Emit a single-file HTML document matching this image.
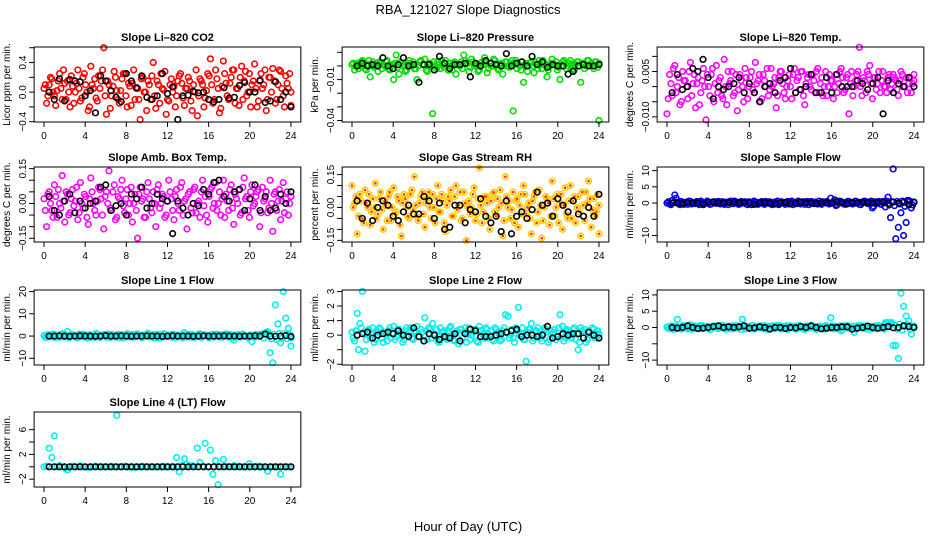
<!DOCTYPE html>
<html><head><meta charset="utf-8">
<style>
html,body{margin:0;padding:0;background:#fff;}
svg{display:block;font-family:"Liberation Sans",Arial,sans-serif;}
</style></head>
<body>
<svg id="chart" width="936" height="540" viewBox="0 0 936 540" xmlns="http://www.w3.org/2000/svg">
<rect x="0" y="0" width="936" height="540" fill="#fff"/>
<text x="468" y="14" text-anchor="middle" font-size="13">RBA_121027  Slope Diagnostics</text>
<text x="468" y="531" text-anchor="middle" font-size="13">Hour of Day (UTC)</text>
</svg>
<script>
const xTicks = [0,4,8,12,16,20,24];

const co2Color = [0.05,-0.15,0.1,0.18,-0.05,0.02,0.25,-0.1,0.12,0.15,-0.2,0.08,0.0,0.3,-0.12,0.2,0.1,-0.25,0.35,0.05,-0.08,0.22,0.15,0.6,-0.3,0.1,-0.05,0.28,0.02,-0.15,0.18,0.25,-0.2,0.08,0.12,-0.1,0.05,-0.37,0.2,0.0,0.15,-0.1,0.4,-0.22,0.1,0.25,0.03,-0.3,-0.12,0.18,0.08,-0.05,0.22,0.12,-0.18,0.05,0.15,-0.25,0.0,-0.32,0.18,0.1,-0.08,0.25,0.45,-0.15,0.3,0.05,-0.22,0.42,0.12,-0.1,0.2,0.3,0.05,-0.18,0.35,0.15,-0.05,0.25,0.1,0.38,-0.2,0.15,0.05,0.3,-0.1,0.2,0.32,-0.15,0.1,0.28,-0.05,0.22,0.05,-0.18];
const co2Color2 = [0.1,-0.05,0.2,0.0,-0.18,0.15,0.05,0.3,-0.1,0.0,0.22,-0.15,0.12,0.05,-0.08,0.25,0.0,-0.2,0.1,0.18,-0.12,0.05,0.3,-0.05,0.15,-0.22,0.08,0.2,-0.1,0.02,0.25,-0.05,0.12,-0.18,0.3,0.05,-0.1,0.18,0.0,-0.25,0.1,0.22,-0.05,0.15,-0.15,0.05,0.28,-0.1,0.1,0.0,-0.2,0.15,0.25,-0.08,0.05,0.2,-0.12,0.1,0.3,-0.05,0.15,-0.2,0.02,0.22,0.1,-0.1,0.18,-0.28,0.08,0.25,-0.05,0.12,0.3,-0.15,0.05,0.2,-0.1,0.28,0.0,-0.2,0.15,0.05,-0.12,0.25,0.1,-0.25,0.2,0.0,0.15,-0.1,0.3,0.05,-0.2,0.12,0.25,0.0];
const co2Black = [0.0,-0.1,0.18,-0.12,0.17,0.15,0.14,-0.05,0.02,-0.28,0.22,0.15,0.02,-0.07,-0.13,0.25,0.15,0.06,0.22,-0.07,-0.1,-0.05,0.25,-0.02,0.07,-0.37,-0.05,-0.04,0.01,-0.01,0.0,-0.1,-0.13,-0.1,0.06,-0.08,-0.07,0.09,0.13,0.0,0.0,0.16,-0.14,-0.12,0.14,-0.1,0.0,-0.2];

const presColor = [.001,-.003,.002,.0,.004,-.002,.001,-.008,.003,.0,-.004,.002,.001,.003,-.002,.0,-.01,.008,-.006,.002,.001,-.003,.004,.0,-.002,-.01,.003,.001,.005,-.004,.002,-.035,.0,.003,-.002,.001,.004,-.003,.0,.002,-.006,.001,.003,.008,.002,-.004,.005,.0,.001,-.003,.003,.006,-.005,.002,.0,.004,-.002,.001,-.006,.003,.0,.002,-.033,.004,.001,-.003,-.012,.002,.0,.003,-.005,.001,.004,-.002,.002,-.008,.0,.005,.001,-.003,-.01,.003,.002,.0,.004,-.002,.001,.003,-.012,.002,.0,.004,.001,-.002,.003,-.04];
const presColor2 = [.002,.0,-.002,.003,.001,-.003,.004,.0,-.001,.002,.003,-.002,.0,.004,-.003,.001,.002,-.001,.003,.0,-.004,.002,.001,.003,-.002,.0,.004,.001,-.003,.002,.0,.003,-.002,.001,.004,-.001,.0,.002,-.003,.003,.001,.0,-.002,.004,.002,-.001,.003,.0,-.004,.002,.001,.003,-.002,.0,.005,.001,-.003,.002,.0,.003,-.001,.004,.002,-.002,.0,.003,.001,-.004,.002,.0,.003,-.002,.001,.004,.0,-.003,.002,.001,.003,-.001,.0,.004,-.002,.002,.001,-.003,.003,.0,.002,-.002,.004,.001,.0,.003,-.001,.002];
const presBlack = [.0,.002,.0,.001,.0,.006,.0,-.002,.001,.006,.0,.001,-.012,.001,.001,-.003,.007,.002,-.002,.001,.001,.002,-.008,.002,.0,.004,.002,.001,.0,.009,.0,.002,.003,.0,.007,.001,.003,-.001,.001,.0,.0,-.006,-.004,.0,.001,.0,.0,.001];

const tempColor = [-.009,.004,-.003,.007,.0,-.006,.005,.002,-.004,.008,.001,-.007,.003,-.002,.006,-.011,.0,.004,-.005,.007,.002,-.003,.009,-.006,.001,.005,-.002,-.008,.004,.0,.006,-.004,.003,-.001,.008,.002,-.005,.004,.0,-.003,.006,.001,-.007,.003,.005,-.002,.0,.004,-.004,.006,.002,-.001,.005,-.006,.003,.0,.004,-.002,.006,.001,-.003,.005,.0,.002,-.004,.004,.001,.006,-.002,.003,-.009,.005,.0,.004,.013,-.003,.002,.005,.007,-.004,.003,.001,-.002,.005,.0,.003,-.001,.004,.002,-.003,.005,.0,.003,.001,-.002,.004];
const tempColor2 = [-.004,.001,.006,-.002,.003,-.005,.002,.0,.005,-.003,.004,.001,-.006,.002,.0,.004,-.003,.006,.001,-.002,.003,-.004,.0,.005,.002,-.003,.004,-.001,.002,-.005,.003,.0,.005,-.002,.001,.004,-.004,.002,.006,-.001,.0,.003,-.003,.005,.001,-.004,.002,.0,.004,-.002,.003,.005,-.003,.001,.004,-.001,.002,.005,-.002,.003,.0,-.003,.004,.002,.0,-.002,.005,.003,-.001,.004,.001,-.003,.002,.005,.0,.003,-.002,.004,.001,.003,-.001,.005,.002,.0,-.002,.004,.001,.003,-.001,.002,.004,.0,-.002,.003,.001,.002];
const tempBlack = [-.002,.004,-.001,.0,.006,.005,.009,.003,-.004,.0,-.001,.0,.001,.003,-.002,.001,-.002,-.005,.0,.001,-.002,.002,.003,.006,-.002,-.001,.0,.004,-.002,-.002,.003,-.002,.004,.0,.0,.0,.002,.001,-.001,.001,.003,-.009,.002,-.002,.001,.0,.003,.0];

const ambColor = [.02,-.1,.05,-.03,.08,-.06,.0,.12,-.08,.04,-.04,.06,.01,-.07,.09,-.02,.03,-.09,.11,.0,-.05,.07,.02,-.11,.05,.14,-.03,.08,-.06,.02,.1,-.04,.06,.0,-.08,.04,-.15,.07,.02,-.06,.09,-.02,.05,-.1,.08,.0,.03,-.05,.1,.02,-.07,.06,-.03,.09,.01,-.11,.05,-.04,.07,.0,-.06,.1,.03,-.08,.06,-.02,.09,.0,-.05,.1,.04,-.03,.08,-.09,.02,.06,-.04,.11,.03,-.06,.08,.0,.05,-.1,.07,.02,-.04,.1,-.12,.05,.01,-.07,.09,.02,-.05,.03];
const ambColor2 = [-.03,.04,.0,-.06,.03,.06,-.02,.01,.05,-.05,.02,-.01,.07,-.04,.0,.04,-.06,.02,.05,-.03,.01,.06,-.05,.03,.0,-.02,.05,-.07,.03,.06,-.01,.02,-.05,.07,.0,-.03,.04,.01,-.06,.05,.02,-.04,.0,.06,-.02,.04,-.06,.01,.05,-.03,.03,.0,.07,-.05,.02,.04,-.02,.06,-.04,.01,.05,-.01,-.05,.03,.07,.0,-.03,.05,.02,-.06,.01,.06,-.02,.04,.0,-.05,.07,.02,-.03,.05,-.01,.03,.06,-.04,.01,.05,-.02,.0,.04,-.03,.06,.01,-.04,.05,.0,.03];
const ambBlack = [.03,-.03,-.05,.01,.04,-.04,.01,-.02,.0,.01,.07,.08,-.03,-.01,.0,-.05,.04,.02,.07,-.02,.0,.04,.02,.01,-.13,.01,-.02,-.05,.0,-.01,.06,.04,.09,.1,.03,.01,.05,.06,-.03,.02,.08,-.03,.03,-.03,-.02,.04,.0,.05];

const rhColor = [.1,.02,-.12,.06,-.05,.08,.0,-.08,.04,.11,-.03,.07,-.1,.01,.05,-.06,.09,-.02,.03,-.13,.06,.0,-.05,.08,.14,-.04,.02,.07,-.09,.04,.0,.06,-.07,.1,-.02,.03,-.11,.05,.08,-.04,.1,.01,-.06,.07,-.15,.03,.0,.09,-.03,.18,-.07,.05,.02,-.1,.06,-.02,.04,.08,-.13,.14,.0,-.05,.07,.03,-.09,.06,.1,-.03,.02,-.12,.05,-.07,.08,-.14,.0,.04,-.08,.12,-.04,.06,.02,-.1,.09,-.05,.1,.03,-.07,.05,-.13,.01,.07,.12,-.09,.04,-.02,-.12];
const rhColor2 = [.0,.05,-.04,.03,-.07,.02,.06,-.02,.0,-.05,.04,-.01,.03,-.06,.07,.0,-.03,.05,-.08,.02,.04,-.04,.06,-.01,.01,-.06,.05,-.03,.02,.07,-.05,.0,.04,-.02,.06,-.07,.01,.03,-.04,.05,-.01,.07,-.05,.02,.0,-.03,.06,-.06,.04,.01,-.02,.05,-.05,.03,.07,-.04,.0,.02,-.06,.05,.03,-.01,-.07,.04,.01,-.03,.06,.0,-.05,.03,.07,-.02,.01,-.06,.05,.02,-.04,.04,.0,-.07,.06,.01,-.03,.03,-.05,.05,.0,-.02,.07,-.06,.02,.04,-.01,-.04,.06,.01];
const rhBlack = [.03,-.05,.02,-.06,.0,.03,.01,-.04,-.06,-.02,.01,-.03,-.03,.05,.03,-.05,.02,-.1,-.09,.01,.01,-.07,-.01,-.02,.04,-.04,-.07,-.04,-.11,.03,-.12,-.04,-.02,-.05,-.01,.07,.01,.02,-.04,.04,.01,-.02,.03,-.03,-.04,.0,-.04,.06];

const sampleColor = [0.0,-0.3,0.8,2.5,0.3,-0.5,0.2,0.0,-0.4,0.5,0.1,-0.2,0.3,0.6,-0.5,0.0,0.2,-0.3,0.4,-0.1,0.5,0.0,-0.4,0.3,0.1,-0.2,0.6,0.0,-0.3,0.2,0.4,-0.5,0.1,0.0,0.3,-0.4,0.2,-0.1,0.5,0.0,-0.3,0.2,0.1,-0.5,0.4,0.0,0.2,-0.3,0.6,0.1,-0.2,0.3,0.0,-0.4,0.5,0.1,-0.1,0.3,-0.3,0.0,0.4,0.2,-0.2,1.5,0.3,-0.8,0.0,0.4,-0.3,0.2,0.5,-0.2,0.1,0.0,-0.4,0.3,0.6,-0.1,0.2,-1.5,0.4,0.0,-0.3,0.5,-1.2,1.8,-4.5,10.5,-11,-7.5,-3,-10,-6,0.8,-1.5,0.3];
const sampleColor2 = [0.4,-0.5,0.2,1.5,-0.2,0.5,-0.4,0.3,0.6,-0.3,0.0,0.5,-0.5,0.2,-0.1,0.6,-0.4,0.3,0.0,0.5,-0.3,0.4,0.1,-0.5,0.6,-0.2,0.3,-0.4,0.5,0.0,-0.3,0.4,-0.5,0.6,0.2,-0.1,0.5,-0.4,0.0,0.4,-0.5,0.3,0.6,-0.2,0.1,-0.4,0.5,0.3,-0.5,0.0,0.6,-0.3,0.4,0.2,-0.5,0.5,-0.2,0.0,0.6,-0.4,0.2,0.5,-0.3,0.1,1.0,-0.5,0.6,0.2,-0.4,0.5,0.0,-0.3,0.6,0.3,-0.5,0.1,0.4,-0.2,0.6,-1.0,0.2,0.5,-0.4,0.3,0.6,-0.6,0.4,-0.8,0.5,-0.3,0.6,-1.0,0.8,0.5,-0.6,0.2];
const sampleBlack = [0.0,0.0,-0.2,0.2,0.1,0.0,-0.3,0.2,0.3,0.1,0.0,0.2,0.3,0.1,0.2,0.0,-0.4,0.1,0.2,0.0,-0.3,0.1,0.2,-0.2,0.0,0.3,0.1,0.0,-0.2,0.2,0.1,0.0,0.5,0.2,-0.3,0.1,0.0,0.2,0.3,0.0,0.1,0.2,-0.2,0.3,0.0,0.2,-0.5,0.3];

const line1Color = [0.2,-0.6,0.5,-0.3,0.8,0.0,-0.5,1.0,0.3,2.0,-0.4,0.6,0.0,-0.8,0.4,0.9,-0.2,0.5,-0.6,0.3,1.2,-0.3,0.0,0.7,-0.5,0.4,0.8,-0.2,0.3,-0.7,0.6,0.0,1.0,-0.4,0.5,-0.1,0.9,0.2,-0.6,0.4,1.3,-0.3,0.6,0.0,-0.8,0.5,1.1,-0.2,0.3,-0.5,0.8,0.0,-0.4,0.6,1.5,-0.3,0.2,0.7,-0.6,0.4,1.0,-0.2,0.5,0.0,-0.5,0.8,0.3,-0.3,0.6,0.0,1.0,-0.4,0.5,-1.8,0.3,0.7,-0.2,0.4,0.0,-0.5,-2.5,0.5,-0.3,0.6,1.0,1.2,2.0,-7.5,-12,14,5.5,-3,20,8,3.5,-4.5];
const line1Color2 = [-0.5,0.6,-0.2,0.9,-0.7,0.3,0.8,-0.4,0.5,-0.8,0.7,0.1,-0.6,0.9,-0.3,0.4,-0.8,0.6,0.2,-0.5,0.8,-0.7,0.5,0.0,0.9,-0.6,0.3,-0.4,0.8,0.2,-0.8,0.6,-0.3,0.7,-0.5,0.9,0.0,-0.7,0.5,0.8,-0.4,0.2,-0.8,0.9,0.3,-0.6,0.7,-0.2,0.5,0.9,-0.7,0.4,0.1,-0.8,0.6,0.8,-0.5,0.3,-0.3,0.9,-0.6,0.5,0.2,-0.8,0.7,-0.4,0.9,0.0,-0.6,0.5,-0.3,0.8,-0.7,0.4,0.6,-0.5,0.9,0.1,-0.8,0.5,-0.4,0.8,-0.2,0.6,-0.9,1.5,1.0,-1.2,0.8,-1.5,1.2,-0.8,1.0,-1.2,0.6,-0.8];
const line1Black = [0,0,0.1,0,-0.1,0,0.1,0,0,-0.1,0,0.2,0,0,0.1,0,-0.1,0,0,0.1,0,0,-0.1,0,0.1,0,0,0,-0.1,0,0.1,0,0,0,0.1,0,0,-0.1,0,0,0.1,0,0.9,0,-0.1,0,0.2,-0.2];

const line2Color = [0.2,-0.4,1.5,0.8,3.0,-1.1,0.3,-0.2,0.5,-0.3,0.2,0.4,-0.5,0.1,0.3,-0.2,0.6,-0.1,0.4,0.0,-0.3,0.5,0.2,-0.2,0.3,0.6,-0.1,0.2,1.2,-0.3,0.4,0.8,0.0,-0.4,0.5,0.2,-0.2,0.3,0.6,-0.3,0.1,-0.6,0.4,0.2,-0.5,0.5,0.0,0.3,-0.4,0.6,0.1,-0.2,0.4,0.0,-0.3,0.5,0.2,-0.4,0.3,1.4,1.3,0.0,-0.2,0.5,1.9,0.1,-0.3,-1.8,0.4,0.8,-0.2,0.3,0.0,-0.4,0.5,0.2,-0.3,0.1,0.4,-0.1,1.4,0.6,-0.2,0.3,0.0,0.4,-0.3,-1.0,0.5,0.2,-0.5,0.3,0.0,0.4,-0.2,0.1];
const line2Color2 = [-0.2,0.3,-1.0,0.5,0.2,-0.3,0.4,0.0,-0.5,0.3,0.5,-0.2,0.2,-0.4,0.5,0.1,-0.3,0.4,0.2,-0.5,0.3,0.0,0.5,-0.3,0.2,-0.1,0.4,-0.4,0.3,0.5,-0.2,0.1,0.4,-0.5,0.2,0.3,-0.3,0.5,0.0,-0.4,0.3,0.4,-0.2,0.5,0.1,-0.3,0.2,0.4,-0.5,0.3,0.0,0.5,-0.2,0.3,-0.4,0.4,0.1,-0.3,0.5,0.2,-0.2,0.4,-0.5,0.3,0.0,0.5,-0.3,0.2,0.4,-0.4,0.3,0.5,-0.2,0.1,0.4,-0.5,0.3,0.2,-0.3,0.5,0.0,-0.4,0.4,0.2,-0.2,0.5,0.1,-0.5,0.3,0.4,-0.3,0.2,0.5,-0.2,0.3,0.0];
const line2Black = [0,0.1,0.2,-0.2,0,0.1,0.2,0.1,0.3,0,-0.1,0.5,-0.1,-0.4,0.1,0,-0.3,-0.1,-0.2,0.1,-0.4,0.1,0.4,0.3,-0.1,-0.1,-0.1,0,0.1,0.2,0.3,0.4,-0.1,0,0,-0.1,0,0.6,-0.2,-0.1,0.1,0,0.1,0.1,-0.2,0.2,0,-0.2];

const line3Color = [0.2,-0.4,0.5,0.0,2.5,-0.3,0.6,0.2,-0.5,0.8,0.0,-0.3,0.4,0.6,-0.2,0.3,0.0,-0.5,0.5,0.2,-0.3,0.6,0.0,0.3,-0.4,0.5,0.2,-0.2,0.4,2.5,-0.5,0.3,0.0,0.6,-0.3,0.2,0.5,-0.4,0.0,0.4,0.2,-0.3,0.6,0.0,-0.5,0.3,0.5,-0.2,0.0,0.4,-0.4,0.6,0.2,-0.6,0.3,0.0,0.5,-0.3,0.2,0.4,-0.2,0.6,0.0,3.0,-0.4,0.3,0.2,-1.0,0.5,0.0,-0.3,0.4,-1.5,0.2,0.0,0.5,-0.3,0.3,0.0,-0.4,0.5,0.2,-0.2,0.4,1.5,1.5,1.2,-5.5,-5.5,-9.5,10.5,6.5,3.5,2.0,-2.0,0.5];
const line3Color2 = [-0.3,0.5,-0.6,0.4,0.1,-0.5,0.6,-0.2,0.3,-0.6,0.5,0.2,-0.4,0.6,-0.1,0.4,-0.6,0.3,0.5,-0.3,0.1,0.6,-0.5,0.4,0.0,-0.4,0.6,0.2,-0.6,0.5,0.1,-0.3,0.6,-0.5,0.3,0.4,-0.2,0.6,-0.6,0.2,0.5,-0.4,0.1,0.6,-0.3,0.4,-0.6,0.5,0.2,-0.5,0.6,0.0,-0.4,0.5,-0.2,0.6,0.3,-0.6,0.4,0.1,-0.5,0.5,-0.3,0.6,0.2,-0.4,0.5,-0.6,0.3,0.6,-0.2,0.4,-0.5,0.6,0.1,-0.3,0.5,-0.6,0.4,0.2,-0.4,0.6,0.0,-0.5,1.2,1.0,1.5,0.8,-0.5,1.0,-0.8,0.6,1.0,-0.5,0.4,0.2];
const line3Black = [0,-0.2,0,0.5,0,-0.3,-0.2,0,0.3,0.5,0,0.2,0,0.2,0.5,-0.2,-0.1,0.2,0,-0.5,0,0,-0.3,0,-0.1,0.3,0,0.5,0,-0.4,-0.2,0,0,0.2,0.2,-0.5,-0.2,0,0.4,0,-0.2,0,0.3,-0.1,0,0.5,0.3,0];

const line4Color = [0,0.1,3,1.5,5,0,0.2,0,-0.2,-0.5,0,0.1,0,0,0.2,0,0,-0.1,0,0,0.1,0,0,0,0,0,0.1,0,8.3,0,0,0.1,0,0,0,-0.1,0,0,0.1,0,0,0,0,0,0,0,0.1,0,0,0,0,1.5,-0.8,0.2,1.3,0.4,0,0.2,0,3,0.7,0.1,3.8,0,2.7,-1.2,1.0,-2.9,0,1.2,0.1,0,0,0.2,0,0.1,0,0,0,0.5,0,0,0.1,0,0,0,-0.7,0,0,0,0,-1.2,0,0,0,0];
const line4Black = [0,0,0,0,0,0,0,0,0,0,0,0,0,0,0,0,0,0,0,0,0,0,0,0,0,0,0,0,0,0,0,0,0,0,0,0,0,0,0,0,0,0,0,0,0,0,0,0];

const panels = [
 {name:'co2',title:'Slope Li\u2013820 CO2',ylab:'Licor ppm per min.',col:0,row:0,ylim:[-0.404,0.61],ticks:[-0.4,-0.2,0,0.2,0.4,0.6],labels:{'-0.4':'\u22120.4','0':'0.0','0.4':'0.4'},color:'#ff0000',c:co2Color,c2:co2Color2,b:co2Black},
 {name:'pressure',title:'Slope Li\u2013820 Pressure',ylab:'kPa per min.',col:1,row:0,ylim:[-0.0411,0.0139],ticks:[-0.04,-0.03,-0.02,-0.01,0,0.01],labels:{'-0.04':'\u22120.04','-0.01':'\u22120.01'},color:'#00dd00',c:presColor,c2:presColor2,b:presBlack},
 {name:'li820-temp',title:'Slope Li\u2013820 Temp.',ylab:'degrees C per min.',col:2,row:0,ylim:[-0.0117,0.0131],ticks:[-0.01,-0.005,0,0.005,0.01],labels:{'-0.01':'\u22120.010','0.005':'0.005'},color:'#ff00ff',c:tempColor,c2:tempColor2,b:tempBlack},
 {name:'amb-box-temp',title:'Slope Amb. Box Temp.',ylab:'degrees C per min.',col:0,row:1,ylim:[-0.166,0.157],ticks:[-0.15,-0.1,-0.05,0,0.05,0.1,0.15],labels:{'-0.15':'\u22120.15','0':'0.00','0.15':'0.15'},color:'#ff00ff',c:ambColor,c2:ambColor2,b:ambBlack},
 {name:'gas-stream-rh',title:'Slope Gas Stream RH',ylab:'percent per min.',col:1,row:1,ylim:[-0.1575,0.1845],ticks:[-0.15,-0.1,-0.05,0,0.05,0.1,0.15],labels:{'-0.15':'\u22120.15','0':'0.00','0.15':'0.15'},color:'#ffcc00',dot:'#ff3300',c:rhColor,c2:rhColor2,b:rhBlack},
 {name:'sample-flow',title:'Slope Sample Flow',ylab:'ml/min per min.',col:2,row:1,ylim:[-12,11.1],ticks:[-10,-5,0,5,10],labels:{'-10':'\u221210','0':'0','5':'5','10':'10'},color:'#0000ee',c:sampleColor,c2:sampleColor2,b:sampleBlack},
 {name:'line1-flow',title:'Slope Line 1 Flow',ylab:'ml/min per min.',col:0,row:2,ylim:[-13,20.7],ticks:[-10,0,10,20],labels:{'-10':'\u221210','0':'0','10':'10','20':'20'},color:'#00eeee',c:line1Color,c2:line1Color2,b:line1Black},
 {name:'line2-flow',title:'Slope Line 2 Flow',ylab:'ml/min per min.',col:1,row:2,ylim:[-2.05,3.1],ticks:[-2,-1,0,1,2,3],labels:{'-2':'\u22122','0':'0','1':'1','2':'2','3':'3'},color:'#00eeee',c:line2Color,c2:line2Color2,b:line2Black},
 {name:'line3-flow',title:'Slope Line 3 Flow',ylab:'ml/min per min.',col:2,row:2,ylim:[-11.5,11.5],ticks:[-10,-5,0,5,10],labels:{'-10':'\u221210','0':'0','5':'5','10':'10'},color:'#00eeee',c:line3Color,c2:line3Color2,b:line3Black},
 {name:'line4-flow',title:'Slope Line 4 (LT) Flow',ylab:'ml/min per min.',col:0,row:3,ylim:[-3.26,8.84],ticks:[-2,0,2,4,6],labels:{'-2':'\u22122','2':'2','6':'6'},color:'#00eeee',c:line4Color,b:line4Black}
];

const NS='http://www.w3.org/2000/svg';
const svg=document.getElementById('chart');
function mk(tag,attrs,parent){const e=document.createElementNS(NS,tag);for(const k in attrs)e.setAttribute(k,attrs[k]);(parent||svg).appendChild(e);return e;}

const colX0=[44,352,667], rowTop=[47,167,290,412], boxH=75, hourPx=10.29;

panels.forEach(p=>{
  const x0=colX0[p.col];
  const L=x0-0.96*hourPx, R=x0+24.96*hourPx, T=rowTop[p.row], B=T+boxH;
  const xs=h=>x0+h*hourPx;
  const ys=v=>B-(v-p.ylim[0])/(p.ylim[1]-p.ylim[0])*boxH;
  const g=mk('g',{});
  
  
  const t=mk('text',{x:(L+R)/2,y:T-6,'text-anchor':'middle','font-size':'11','font-weight':'bold'},g);
  t.textContent=p.title;
  
  
  const yl=mk('text',{x:0,y:0,'text-anchor':'middle','font-size':'10',transform:`translate(${L-24},${(T+B)/2}) rotate(-90)`},g);
  yl.textContent=p.ylab;
  
  
  const cg=mk('g',{fill:'none'},g);
  
  
  function drawColored(arr,offset){
    arr.forEach((v,i)=>{
      const h=(i+offset)*24/(arr.length-1);
      const c=mk('circle',{cx:xs(Math.min(h,24)),cy:ys(v),r:2.8,stroke:p.color,'stroke-width':1.6,fill:'none'},cg);
      
      
      if(p.dot){mk('circle',{cx:xs(Math.min(h,24)),cy:ys(v),r:1.3,fill:p.dot},cg);}
    });
  }
  drawColored(p.c,0);
  if(p.c2) drawColored(p.c2,0.5);
  const bg=mk('g',{fill:'none'},g);
  
  
  p.b.forEach((v,i)=>{
    const h=0.5+i*23.5/(p.b.length-1);
    const c=mk('circle',{cx:xs(h),cy:ys(v),r:2.8,stroke:'#000','stroke-width':1.6,fill:'none'},bg);
    
    
  });
  const box=mk('rect',{x:L,y:T,width:R-L,height:boxH,fill:'none',stroke:'#000','stroke-width':1},g);
  
  
  xTicks.forEach(h=>{
    mk('line',{x1:xs(h),x2:xs(h),y1:B,y2:B+5,stroke:'#000'},g);
    const tl=mk('text',{x:xs(h),y:B+17,'text-anchor':'middle','font-size':'10'},g);
    tl.textContent=String(h);
    
    
  });
  p.ticks.forEach(v=>{
    mk('line',{x1:L-5,x2:L,y1:ys(v),y2:ys(v),stroke:'#000'},g);
    const lab=p.labels[String(v)];
    if(lab!==undefined){
      const tl=mk('text',{x:0,y:0,'text-anchor':'middle','font-size':'10',transform:`translate(${L-8},${ys(v)}) rotate(-90)`},g);
      tl.textContent=lab;
      
      
    }
  });
});
</script>
</body></html>
